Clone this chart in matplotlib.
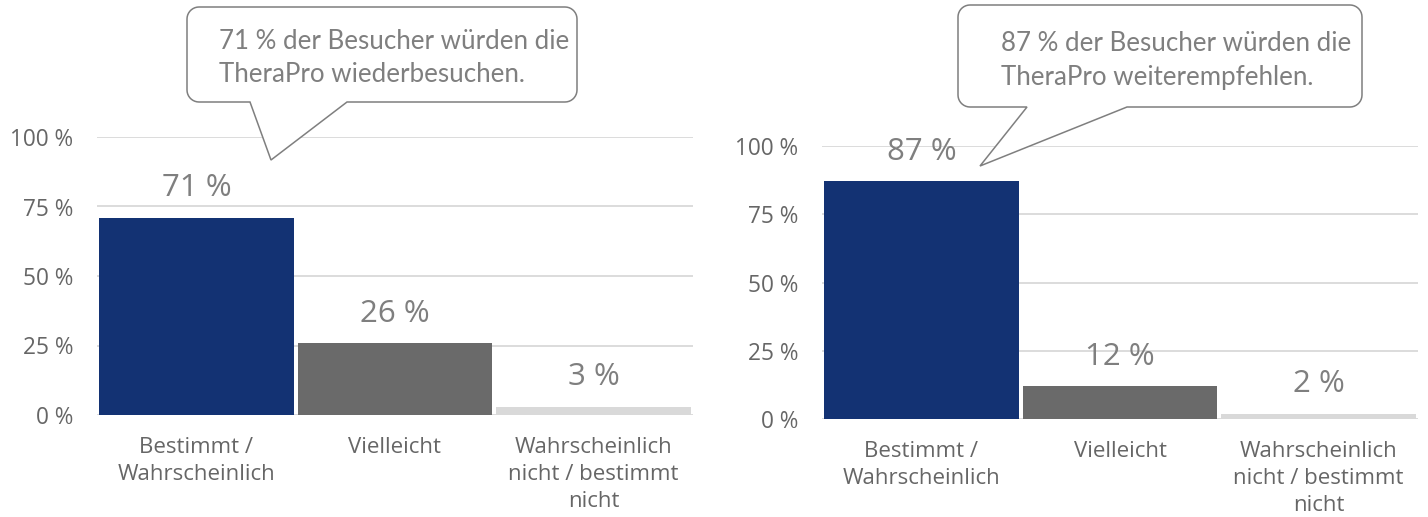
import numpy as np
import matplotlib
matplotlib.use("Agg")
import matplotlib.pyplot as plt
from matplotlib.path import Path
from matplotlib.patches import PathPatch

categories = ["Bestimmt /\nWahrscheinlich", "Vielleicht", "Wahrscheinlich\nnicht / bestimmt\nnicht"]
revisit_values = [71, 26, 3]
recommend_values = [87, 12, 2]
yticks = [0, 25, 50, 75, 100]
ytick_labels = ["0 %", "25 %", "50 %", "75 %", "100 %"]
callout_left = "71 % der Besucher würden die\nTheraPro wiederbesuchen."
callout_right = "87 % der Besucher würden die\nTheraPro weiterempfehlen."

bar_colors = ["#133273", "#6a6a6a", "#d9d9d9"]
W, H = 1428, 517
fig = plt.figure(figsize=(W / 100, H / 100), dpi=100)
plt.rcParams['font.family'] = ['Open Sans', 'DejaVu Sans']

def px_axes(x0, x1, y_top, y_bot):
    return fig.add_axes([x0 / W, 1 - y_bot / H, (x1 - x0) / W, (y_bot - y_top) / H])

def draw_chart(ax, values):
    x = np.arange(len(categories))
    ax.bar(x, values, width=0.98, color=bar_colors, zorder=3)
    ax.set_xlim(-0.5, 2.5)
    ax.set_ylim(0, 100)
    ax.set_yticks(yticks)
    ax.set_yticklabels(ytick_labels)
    ax.yaxis.grid(True, color="#d9d9d9", linewidth=1.3, zorder=0)
    ax.set_axisbelow(True)
    for s in ax.spines.values():
        s.set_visible(False)
    ax.tick_params(axis="y", length=0, pad=17, labelsize=16.3, labelcolor="#666666")
    ax.tick_params(axis="x", length=0, pad=16, labelsize=16, labelcolor="#666666")
    ax.set_xticks(x)
    ax.set_xticklabels(categories, linespacing=1.38)
    for xi, v in zip(x, values):
        ax.annotate(f"{v} %", (xi, v), xytext=(0, 21), textcoords="offset points",
                    ha="center", va="center", fontsize=22.5, color="#7f7f7f",
                    annotation_clip=False, zorder=5)

def callout(L, T, R, B, base1, base2, tip, r=12):
    pts = []
    def arc(cx, cy, a0, a1):
        for a in np.linspace(a0, a1, 10):
            pts.append((cx + r * np.cos(a), cy + r * np.sin(a)))
    arc(L + r, T + r, np.pi, 1.5 * np.pi)
    arc(R - r, T + r, 1.5 * np.pi, 2 * np.pi)
    arc(R - r, B - r, 0, 0.5 * np.pi)
    pts.append((base2, B))
    pts.append(tip)
    pts.append((base1, B))
    arc(L + r, B - r, 0.5 * np.pi, np.pi)
    pts.append(pts[0])
    verts = [(px / W, 1 - py / H) for px, py in pts]
    codes = [Path.MOVETO] + [Path.LINETO] * (len(verts) - 2) + [Path.CLOSEPOLY]
    patch = PathPatch(Path(verts, codes), facecolor="white", edgecolor="#7f7f7f",
                      linewidth=1.1, transform=fig.transFigure, zorder=10)
    fig.add_artist(patch)

ax1 = px_axes(97, 693, 137, 415)
draw_chart(ax1, revisit_values)
ax2 = px_axes(822, 1418, 146, 419)
draw_chart(ax2, recommend_values)

callout(187, 7, 577, 102, 250, 347, (271, 160))
fig.text(219 / W, 1 - 58 / H, callout_left, ha="left", va="center", fontsize=18.6,
         color="#7f7f7f", linespacing=1.42, zorder=11, family=['Lato', 'DejaVu Sans'])
callout(958, 5, 1362, 107, 1027, 1127, (980, 166))
fig.text(1001 / W, 1 - 60.5 / H, callout_right, ha="left", va="center", fontsize=18.6,
         color="#7f7f7f", linespacing=1.42, zorder=11, family=['Lato', 'DejaVu Sans'])

fig.savefig("out.png", dpi=100)
